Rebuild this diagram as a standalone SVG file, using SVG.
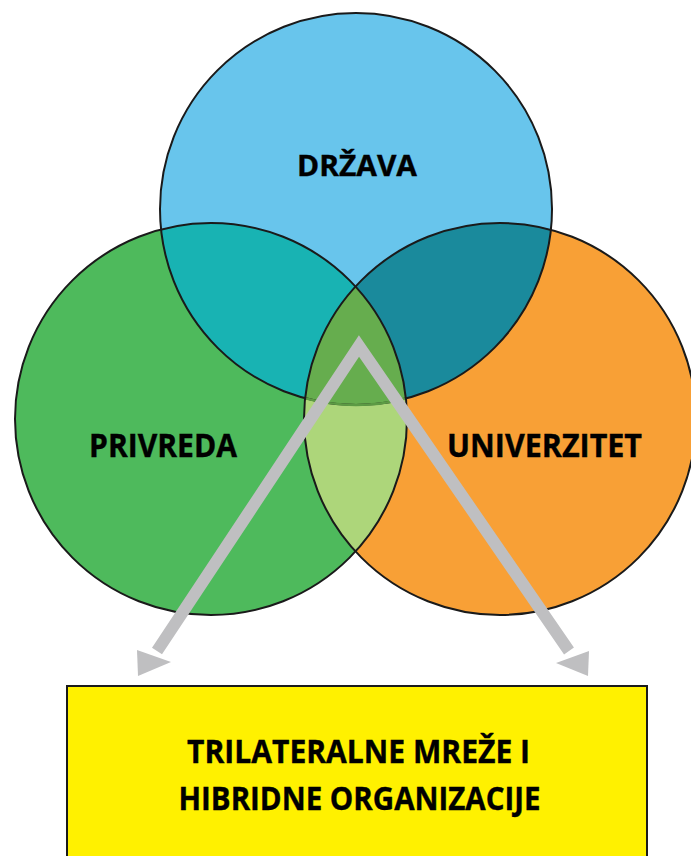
<svg xmlns="http://www.w3.org/2000/svg" width="691" height="856" viewBox="0 0 691 856">
  <style>
    .lbl { font-family: "Open Sans", "Liberation Sans", sans-serif; font-weight: 700; fill: #000; stroke: #000; stroke-width: 0.4; }
    .outline { fill: none; stroke: #1a1a1a; stroke-width: 2; }
    .arrow { fill: none; stroke: #BFBFC1; stroke-width: 12; stroke-linejoin: miter; stroke-miterlimit: 10; }
    .head { fill: #BFBFC1; }
  </style>
  <defs>
    <clipPath id="clipTop"><circle cx="356" cy="209" r="196"/></clipPath>
    <clipPath id="clipLeft"><circle cx="211" cy="419" r="196"/></clipPath>
    <clipPath id="clipRight"><circle cx="500" cy="419" r="196"/></clipPath>
  </defs>
  <rect width="691" height="856" fill="#ffffff"/>

  <g id="drzava">
    <circle cx="356" cy="209" r="196" fill="#68C5EC"/>
  </g>
  <g id="privreda">
    <circle cx="211" cy="419" r="196" fill="#4EBA5C"/>
  </g>
  <g id="univerzitet">
    <circle cx="500" cy="419" r="196" fill="#F8A036"/>
  </g>

  <g id="overlaps">
    <g clip-path="url(#clipTop)"><circle cx="211" cy="419" r="196" fill="#18B3B3"/></g>
    <g clip-path="url(#clipTop)"><circle cx="500" cy="419" r="196" fill="#1A8A9C"/></g>
    <g clip-path="url(#clipLeft)"><circle cx="500" cy="419" r="196" fill="#ADD67A"/></g>
    <g clip-path="url(#clipLeft)"><g clip-path="url(#clipRight)"><circle cx="356" cy="209" r="196" fill="#66AD4E"/></g></g>
  </g>

  <g id="outlines">
    <circle class="outline" cx="356" cy="209" r="196"/>
    <g clip-path="url(#clipLeft)"><g clip-path="url(#clipRight)"><circle cx="356" cy="209" r="196" fill="none" stroke="#5C9A44" stroke-width="2.5"/></g></g>
    <circle class="outline" cx="211" cy="419" r="196"/>
    <circle class="outline" cx="500" cy="419" r="196"/>
  </g>

  <g id="labels">
    <text class="lbl" x="357" y="176" font-size="29" text-anchor="middle" textLength="120" lengthAdjust="spacingAndGlyphs">DRŽAVA</text>
    <text class="lbl" x="163" y="457" font-size="32" text-anchor="middle" textLength="148" lengthAdjust="spacingAndGlyphs">PRIVREDA</text>
    <text class="lbl" x="544.5" y="457" font-size="32" text-anchor="middle" textLength="195" lengthAdjust="spacingAndGlyphs">UNIVERZITET</text>
  </g>

  <g id="connectors">
    <polyline class="arrow" points="157,651 359,346 569,651"/>
    <polygon class="head" points="138,676 137,650 171,662"/>
    <polygon class="head" points="588,676 556,663 589,651"/>
  </g>

  <g id="hibridne">
    <rect x="67" y="686" width="580" height="190" fill="#FFF100" stroke="#1a1a1a" stroke-width="2"/>
    <text class="lbl" x="358.5" y="763" font-size="32" text-anchor="middle" textLength="343" lengthAdjust="spacingAndGlyphs">TRILATERALNE MREŽE I</text>
    <text class="lbl" x="359.5" y="810" font-size="32" text-anchor="middle" textLength="362" lengthAdjust="spacingAndGlyphs">HIBRIDNE ORGANIZACIJE</text>
  </g>
</svg>
